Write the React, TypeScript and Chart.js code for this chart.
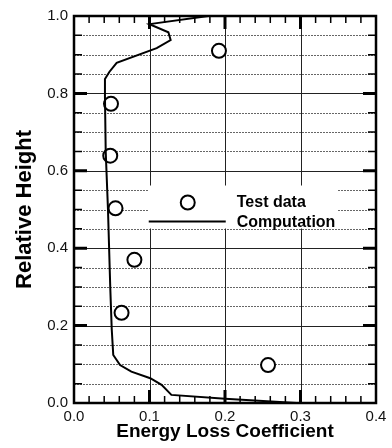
import React, { useEffect, useRef } from "react";
import { Chart, registerables } from "chart.js";

Chart.register(...registerables);

// Computation curve (Energy Loss Coefficient, Relative Height)
const compX = [0.178, 0.100, 0.125, 0.128, 0.1095, 0.0565, 0.047, 0.041, 0.041, 0.042, 0.045, 0.048, 0.050, 0.052, 0.061, 0.076, 0.101, 0.116, 0.129, 0.200, 0.295];
const compY = [1.000, 0.979, 0.958, 0.938, 0.917, 0.879, 0.856, 0.837, 0.792, 0.650, 0.500, 0.300, 0.190, 0.124, 0.098, 0.081, 0.064, 0.047, 0.021, 0.011, 0.000];

// Test data
const testX = [0.192, 0.049, 0.048, 0.055, 0.080, 0.063, 0.257];
const testY = [0.910, 0.773, 0.639, 0.503, 0.370, 0.233, 0.098];

const xTicks = [0, 0.1, 0.2, 0.3, 0.4];
const yTicks = [0, 0.2, 0.4, 0.6, 0.8, 1.0];

const legendLabels = ["Test data", "Computation"];
const xTitle = "Energy Loss Coefficient";
const yTitle = "Relative Height";

const FONT = "'Liberation Sans', Arial, Helvetica, sans-serif";

const decorPlugin = {
  id: "decor",
  beforeDatasetsDraw(chart: any) {
    const { ctx, chartArea: a, scales } = chart;
    const xs = scales.x, ys = scales.y;
    ctx.save();
    // horizontal grid lines every 0.05
    for (let i = 1; i < 20; i++) {
      const y = Math.round(ys.getPixelForValue(i * 0.05)) + 0.5;
      ctx.beginPath();
      if (i % 4 === 0) {
        ctx.setLineDash([]);
        ctx.strokeStyle = "#222";
      } else {
        ctx.setLineDash([2, 1]);
        ctx.strokeStyle = "#666";
      }
      ctx.lineWidth = 1;
      ctx.moveTo(a.left, y);
      ctx.lineTo(a.right, y);
      ctx.stroke();
    }
    ctx.setLineDash([]);
    // vertical grid lines at 0.1 steps
    for (let i = 1; i < 4; i++) {
      const x = Math.round(xs.getPixelForValue(i * 0.1)) + 0.5;
      ctx.beginPath();
      ctx.strokeStyle = "#222";
      ctx.lineWidth = 1;
      ctx.moveTo(x, a.top);
      ctx.lineTo(x, a.bottom);
      ctx.stroke();
    }
    ctx.restore();
  },
  afterDatasetsDraw(chart: any) {
    const { ctx, chartArea: a, scales } = chart;
    const xs = scales.x, ys = scales.y;
    ctx.save();
    ctx.strokeStyle = "#000";
    // x ticks (inward, bottom and top)
    for (let i = 1; i < 20; i++) {
      const major = i % 5 === 0;
      const x = xs.getPixelForValue(i * 0.02);
      const len = major ? 13 : 7;
      ctx.lineWidth = major ? 3 : 1.5;
      ctx.beginPath();
      ctx.moveTo(x, a.bottom);
      ctx.lineTo(x, a.bottom - len);
      ctx.moveTo(x, a.top);
      ctx.lineTo(x, a.top + len);
      ctx.stroke();
    }
    // y ticks (inward, left and right)
    for (let i = 1; i < 20; i++) {
      const major = i % 4 === 0;
      const y = ys.getPixelForValue(i * 0.05);
      const len = major ? 13 : 8;
      ctx.lineWidth = major ? 3 : 1.5;
      ctx.beginPath();
      ctx.moveTo(a.left, y);
      ctx.lineTo(a.left + len, y);
      ctx.moveTo(a.right, y);
      ctx.lineTo(a.right - len, y);
      ctx.stroke();
    }
    // frame
    ctx.lineWidth = 2.5;
    ctx.strokeRect(a.left, a.top, a.right - a.left, a.bottom - a.top);

    // legend
    const lx = xs.getPixelForValue(0.099);
    const ly = ys.getPixelForValue(0.562);
    const lw = 189;
    const lh = 43;
    ctx.fillStyle = "#fff";
    ctx.fillRect(lx, ly, lw, lh);
    ctx.lineWidth = 2;
    ctx.beginPath();
    ctx.arc(lx + 39, ly + 17, 7, 0, Math.PI * 2);
    ctx.stroke();
    ctx.beginPath();
    ctx.moveTo(lx, ly + 36);
    ctx.lineTo(lx + 77, ly + 36);
    ctx.stroke();
    ctx.fillStyle = "#000";
    ctx.font = `bold 16px ${FONT}`;
    ctx.textAlign = "left";
    ctx.textBaseline = "alphabetic";
    ctx.fillText(legendLabels[0], lx + 88, ly + 21);
    ctx.fillText(legendLabels[1], lx + 88, ly + 41);
    ctx.restore();
  },
};

export default function App() {
  const ref = useRef<HTMLCanvasElement>(null);
  useEffect(() => {
    if (!ref.current) return;
    const chart = new Chart(ref.current, {
      type: "scatter",
      data: {
        datasets: [
          {
            label: legendLabels[1],
            type: "line",
            data: compX.map((x, i) => ({ x, y: compY[i] })),
            borderColor: "#000",
            borderWidth: 2,
            pointRadius: 0,
            tension: 0,
            fill: false,
          } as any,
          {
            label: legendLabels[0],
            data: testX.map((x, i) => ({ x, y: testY[i] })),
            pointRadius: 7,
            pointBorderWidth: 2,
            borderColor: "#000",
            backgroundColor: "#fff",
            pointBackgroundColor: "#fff",
            pointBorderColor: "#000",
          },
        ],
      },
      options: {
        responsive: false,
        animation: false,
        layout: { padding: { top: 16, right: 16, left: 0, bottom: 0 } },
        plugins: { legend: { display: false }, tooltip: { enabled: false } },
        scales: {
          x: {
            type: "linear",
            min: 0,
            max: 0.4,
            afterBuildTicks: (s: any) => {
              s.ticks = xTicks.map((v) => ({ value: v }));
            },
            afterFit: (s: any) => {
              s.height = 45;
            },
            ticks: {
              callback: (v: any) => Number(v).toFixed(1),
              font: { family: FONT, size: 15 },
              color: "#111",
              padding: 5,
              maxRotation: 0,
              autoSkip: false,
            },
            grid: { display: false, drawTicks: false, tickLength: 0 },
            border: { display: false },
            title: {
              display: true,
              text: xTitle,
              font: { family: FONT, size: 19, weight: "bold" },
              color: "#000",
              padding: { top: 0, bottom: 5 },
            },
          },
          y: {
            type: "linear",
            min: 0,
            max: 1,
            afterBuildTicks: (s: any) => {
              s.ticks = yTicks.map((v) => ({ value: v }));
            },
            afterFit: (s: any) => {
              s.width = 74;
            },
            ticks: {
              callback: (v: any) => Number(v).toFixed(1),
              font: { family: FONT, size: 15 },
              color: "#111",
              padding: 6,
              autoSkip: false,
            },
            grid: { display: false, drawTicks: false, tickLength: 0 },
            border: { display: false },
            title: {
              display: true,
              text: yTitle,
              font: { family: FONT, size: 22, weight: "bold" },
              color: "#000",
              padding: { top: 12, bottom: 0 },
            },
          },
        },
      } as any,
      plugins: [decorPlugin],
    });
    return () => chart.destroy();
  }, []);
  return (
    <div style={{ position: "absolute", left: 0, top: 0, width: 392, height: 448, background: "#fff" }}>
      <canvas ref={ref} width={392} height={448} style={{ display: "block" }} />
    </div>
  );
}
